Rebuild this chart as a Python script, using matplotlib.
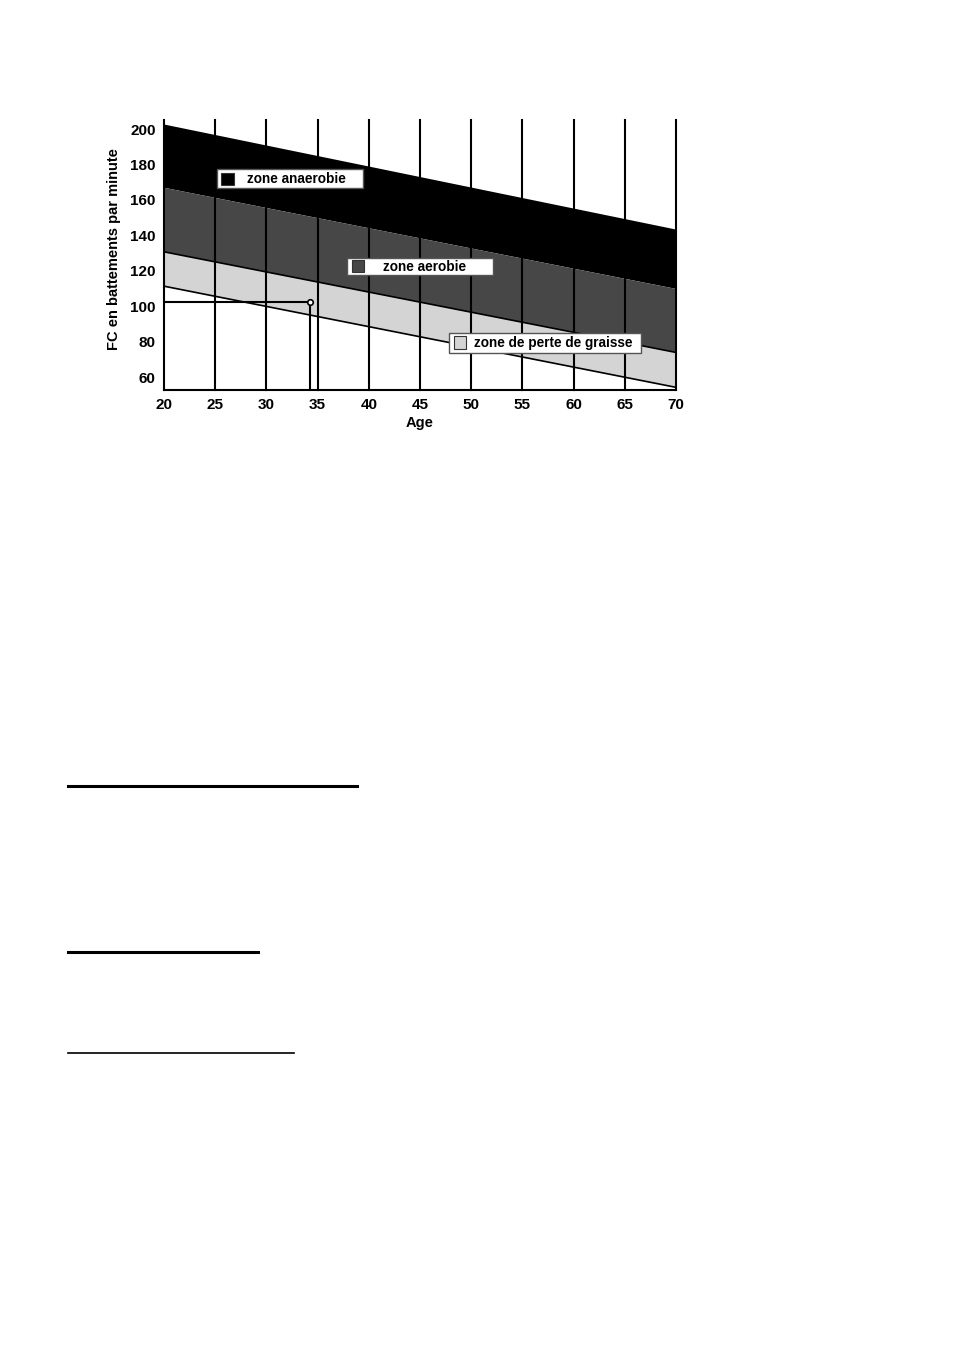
#!/usr/bin/python3

"""zones de frequence cardiaque selon l'age"""

import matplotlib
matplotlib.use("Agg")
import matplotlib.pyplot as plt
from matplotlib.lines import Line2D
from matplotlib.patches import Rectangle

# bornes des zones, aux ages 20 et 70
ages = [20, 70]
fc_max = [202.8, 143.5]
fc_anaerobie = [167.1, 110.0]
fc_aerobie = [130.7, 73.9]
fc_graisse = [111.3, 54.2]

grid_ages = [20, 25, 30, 35, 40, 45, 50, 55, 60, 65, 70]
y_ticks = [60, 80, 100, 120, 140, 160, 180, 200]

# point de lecture exemple
point_age = 34.3
point_fc = 102.1

zone_labels = ["zone anaerobie", "zone aerobie", "zone de perte de graisse"]
zone_colors = ["#000000", "#474747", "#d4d4d4"]

plt.rcParams["font.family"] = ["Liberation Sans", "DejaVu Sans"]
plt.rcParams["font.weight"] = "bold"

fig = plt.figure(figsize=(9.54, 13.51), dpi=100)
ax = fig.add_axes([164 / 954, 1 - 390 / 1351, 512 / 954, 270 / 1351])

ax.fill_between(ages, fc_anaerobie, fc_max, color=zone_colors[0], lw=0, zorder=1)
ax.fill_between(ages, fc_aerobie, fc_anaerobie, color=zone_colors[1], lw=0, zorder=1)
ax.fill_between(ages, fc_graisse, fc_aerobie, color=zone_colors[2], lw=0, zorder=1)
ax.plot(ages, fc_aerobie, color="black", lw=1.2, zorder=3)
ax.plot(ages, fc_graisse, color="black", lw=1.2, zorder=3)

ax.set_xlim(20, 70)
ax.set_ylim(52.7, 205.1)
for a in grid_ages:
    ax.axvline(a, color="black", lw=1.5, zorder=2, clip_on=False)

# lecture du point
ax.plot([20, point_age], [point_fc, point_fc], color="black", lw=1.5, zorder=4)
ax.plot([point_age, point_age], [52.7, point_fc], color="black", lw=1.5, zorder=4)
ax.plot(point_age, point_fc, "o", ms=4, mfc="white", mec="black", mew=1.2, zorder=5)

for side in ["top", "right", "left"]:
    ax.spines[side].set_visible(False)
ax.spines["bottom"].set_linewidth(1.5)

ax.set_xticks(grid_ages)
ax.set_yticks(y_ticks)
ax.tick_params(length=0, labelsize=11, pad=6)
ax.tick_params(axis="x", pad=6)
ax.set_xlabel("Age", fontsize=10.5, fontweight="bold", labelpad=3)
ax.set_ylabel("FC en battements par minute", fontsize=10.5, fontweight="bold")
ax.yaxis.set_label_coords(-0.084, 0.522)

# etiquettes des zones: (cadre x0, x1, y0, y1), (carre x0, x1, y0, y1), x du texte
boxes = [
    ((25.18, 39.43, 166.7, 177.4), (25.57, 26.84, 168.4, 175.2), 28.1),
    ((37.87, 52.13, 117.6, 127.2), (38.36, 39.53, 119.2, 126.3), 41.4),
    ((47.83, 66.58, 73.5, 84.8), (48.32, 49.49, 75.7, 83.1), 50.3),
]
for label, color, (frame, square, tx) in zip(zone_labels, zone_colors, boxes):
    x0, x1, y0, y1 = frame
    ax.add_patch(Rectangle((x0, y0), x1 - x0, y1 - y0, fc="white", ec="#555555",
                           lw=1, zorder=6))
    sx0, sx1, sy0, sy1 = square
    ax.add_patch(Rectangle((sx0, sy0), sx1 - sx0, sy1 - sy0, fc=color, ec="#333333",
                           lw=0.8, zorder=7))
    ax.text(tx, (y0 + y1) / 2, label, fontsize=9.8, fontweight="bold",
            va="center", ha="left", zorder=8)

# traits soulignes de la page
for x0, x1, y, w in [(68, 357, 786, 2.2), (68, 258, 952, 2.2), (68, 294, 1053, 1.2)]:
    fig.add_artist(Line2D([x0 / 954, x1 / 954], [1 - y / 1351, 1 - y / 1351],
                          color="black", lw=w))

fig.savefig("out.png", dpi=100, facecolor="white")
